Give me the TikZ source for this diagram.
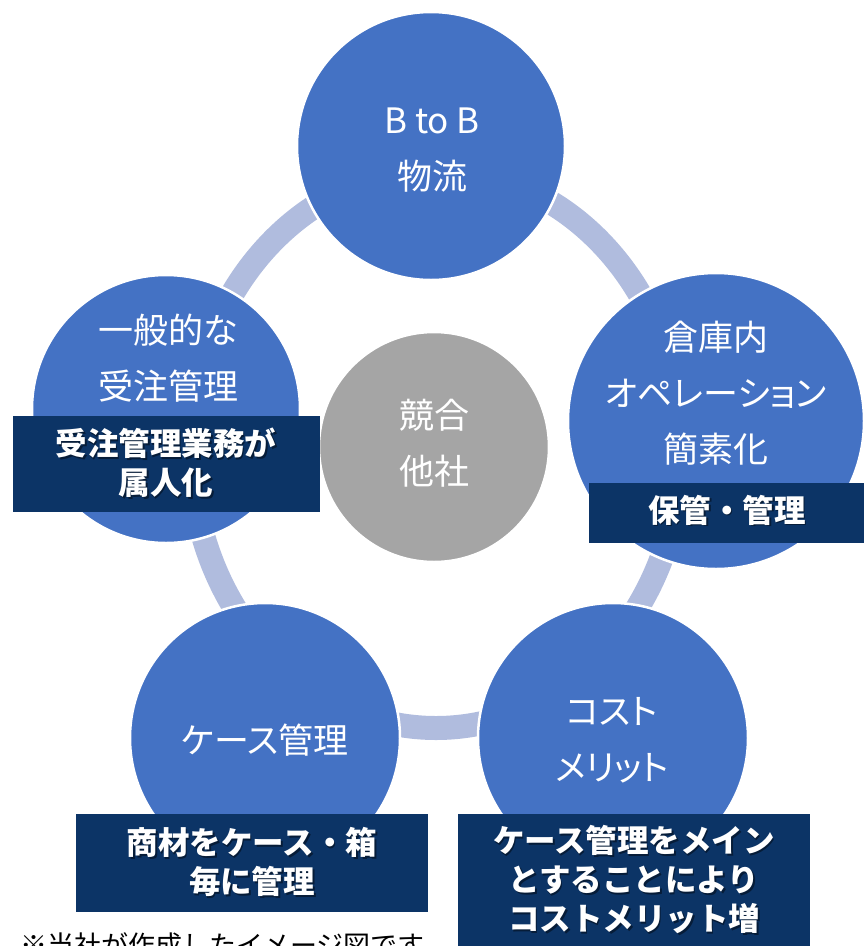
\documentclass[tikz,border=0pt]{standalone}
\usepackage{fontspec}
\setmainfont{Noto Sans CJK JP}[RawFeature=+palt]
\newfontfamily\boxfont{Noto Sans CJK JP}
\definecolor{cblue}{HTML}{4472C4}
\definecolor{cgray}{HTML}{A5A5A5}
\definecolor{cring}{HTML}{B0BCDE}
\definecolor{cnavy}{HTML}{0C3466}
\tikzset{
  bubble/.style={circle, fill=cblue, draw=white, line width=2.5pt, inner sep=0pt},
  hub/.style={circle, fill=cgray, draw=white, line width=2.5pt, inner sep=0pt, minimum size=230pt},
  ctext/.style={text=white, align=center, font=\fontsize{35}{56}\selectfont, inner sep=0pt},
  navybox/.style={fill=cnavy, draw=none, inner sep=0pt, anchor=north west},
  btext/.style={text=white, align=center, font=\boxfont\fontsize{31.5}{39}\selectfont\bfseries, inner sep=0pt},
  bshadow/.style={text=black, opacity=0.45, align=center, font=\boxfont\fontsize{31.5}{39}\selectfont\bfseries, inner sep=0pt},
}
\begin{document}
\begin{tikzpicture}[x=1pt,y=-1pt]
\useasboundingbox (0,0) rectangle (864,946);
\clip (0,0) rectangle (864,946);
% ring
\draw[cring, line width=24pt] (436,449) ellipse [x radius=245pt, y radius=279pt];
% hub
\node[hub] (hub) at (434,447) {};
% outer circles
\node[bubble, minimum size=268pt] (ctop) at (431,146) {};
\node[bubble, minimum size=268pt] (cleft) at (166,409) {};
\node[bubble, minimum size=296pt] (cright) at (716,421) {};
\node[bubble, minimum size=270pt] (cbl) at (265,738) {};
\node[bubble, minimum size=270pt] (cbr) at (613,738) {};
% circle texts
\node[ctext] (ttop) at (432,150) {B to B\\物流};
\node[ctext] (tleft) at (168,358) {一般的な\\受注管理};
\node[ctext] (tright) at (716,393) {倉庫内\\オペレーション\\簡素化};
\node[ctext] (thub) at (434,443) {競合\\他社};
\node[ctext] (tbl) at (265,740) {ケース管理};
\node[ctext] (tbr) at (612,740) {コスト\\メリット};
% navy boxes
\node[navybox, minimum width=307pt, minimum height=96pt] (b1) at (13,416) {};
\node[navybox, minimum width=276pt, minimum height=60pt] (b2) at (589,483) {};
\node[navybox, minimum width=352pt, minimum height=134pt] (b3) at (458,814) {};
\node[navybox, minimum width=352pt, minimum height=98pt] (b4) at (76,814) {};
% box texts with shadows
\node[bshadow] (s1) at (167.5,464.5) {受注管理業務が\\属人化};
\node[btext] (t1) at (166,463) {受注管理業務が\\属人化};
\node[bshadow] (s2) at (728.5,511.5) {保管・管理};
\node[btext] (t2) at (727,510) {保管・管理};
\node[bshadow] (s3) at (635.5,881.5) {ケース管理をメイン\\とすることにより\\コストメリット増};
\node[btext] (t3) at (634,880) {ケース管理をメイン\\とすることにより\\コストメリット増};
\node[bshadow] (s4) at (253.5,863.5) {商材をケース・箱\\毎に管理};
\node[btext] (t4) at (252,862) {商材をケース・箱\\毎に管理};
% footnote
\node[anchor=base west, inner sep=0pt, font=\boxfont\fontsize{27}{27}\selectfont] (note) at (20,955) {※当社が作成したイメージ図です};
\end{tikzpicture}
\end{document}
